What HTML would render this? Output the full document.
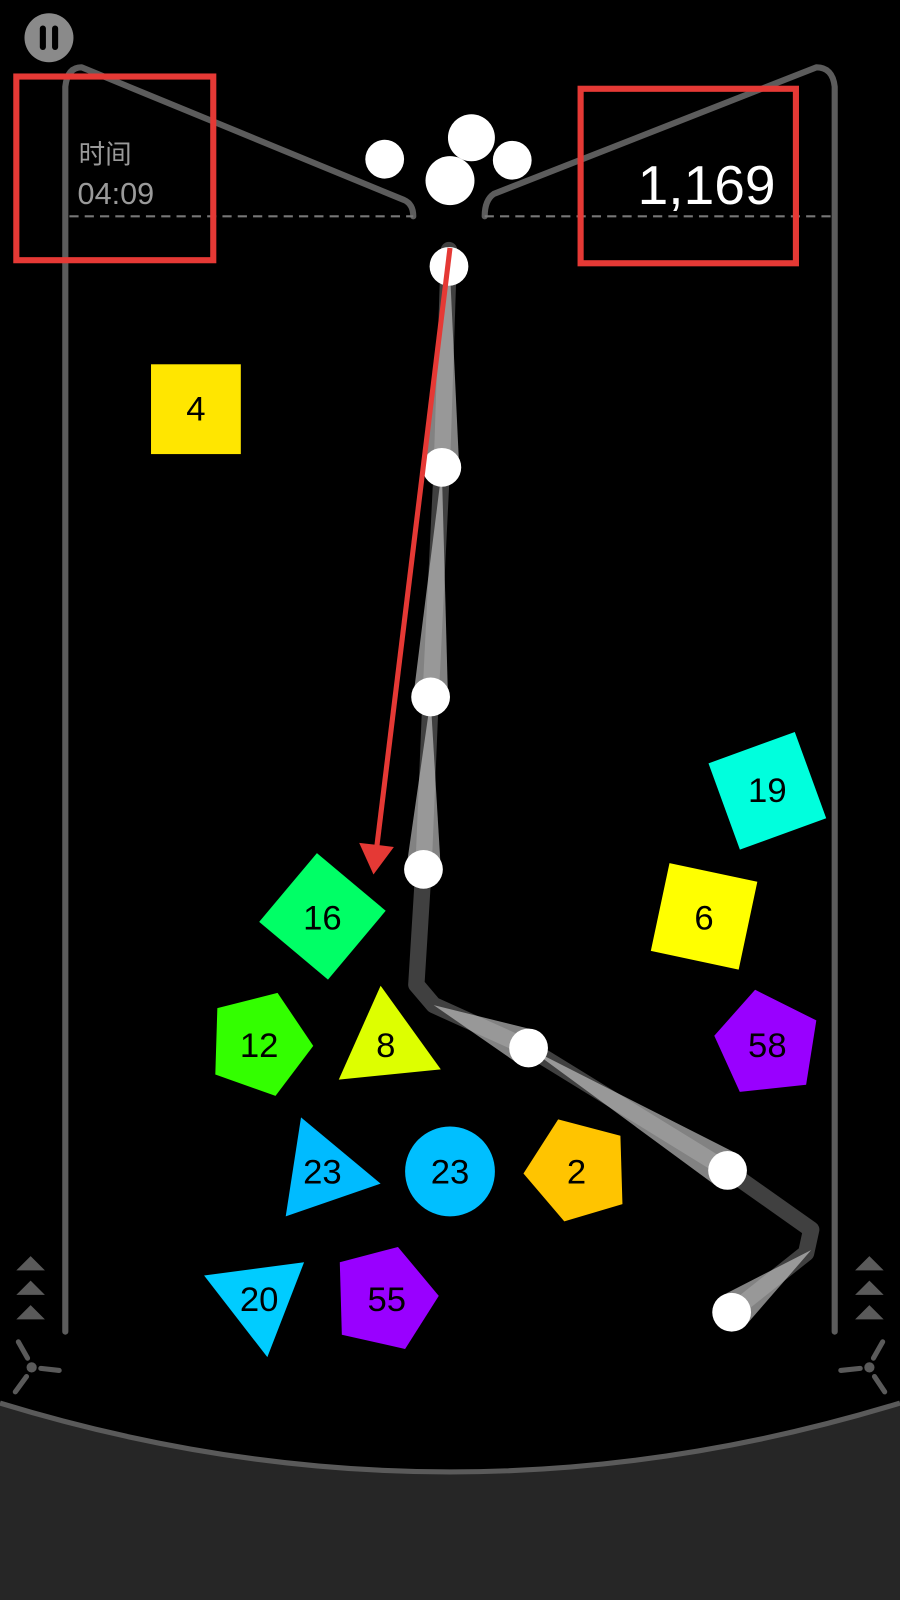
<!DOCTYPE html>
<html><head><meta charset="utf-8"><style>
html,body{margin:0;padding:0;background:#000;width:900px;height:1600px;overflow:hidden}
svg{display:block}
text{font-family:"Liberation Sans","Noto Sans CJK SC",sans-serif}
</style></head><body>
<svg width="900" height="1600" viewBox="0 0 882 1568" preserveAspectRatio="none" xmlns="http://www.w3.org/2000/svg">
<rect width="882" height="1568" fill="#000"/>
<path d="M0 1375 Q441 1510 882 1375 L882 1568 L0 1568Z" fill="#262626"/>
<path d="M0 1375 Q441 1510 882 1375" fill="none" stroke="#5a5a5a" stroke-width="5"/>
<g fill="none" stroke="#5c5c5c" stroke-width="6" stroke-linecap="round" stroke-linejoin="round">
<path d="M64 1305 L64 85 Q66 66 80 66 L396 196 Q405 200 405 212"/>
<path d="M818 1305 L818 85 Q816 66 800 66 L484 190 Q475 196 475 212"/>
</g>
<g stroke="#777" stroke-width="2" stroke-dasharray="9 6">
<line x1="68" y1="212" x2="405" y2="212"/><line x1="475" y1="212" x2="815" y2="212"/>
</g>
<circle cx="48" cy="37" r="24" fill="#8a8a8a"/>
<rect x="39" y="25" width="6" height="24" rx="3" fill="#000"/><rect x="51" y="25" width="6" height="24" rx="3" fill="#000"/>
<text x="77" y="160" font-size="26" fill="#9a9a9a">时间</text>
<text x="76" y="200" font-size="30" fill="#9a9a9a">04:09</text>
<text x="760" y="200" font-size="54" fill="#fff" text-anchor="end">1,169</text>
<!-- trail -->
<g fill="none" stroke-linecap="round" stroke-linejoin="round">
<path d="M440 245 L433 458 L422 683 L415 852 L408 965 L425 985 L518 1027 L713 1147 L795 1205 L790 1228 L717 1286" stroke="#404040" stroke-width="16"/>
</g>
<g fill="#c8c8c8" opacity="0.65">
<polygon points="440,245 450,458 416,458"/>
<polygon points="433,460 439,683 405,683"/>
<polygon points="422,685 432,852 398,852"/>
<polygon points="425,985 510,1044 526,1010"/>
<polygon points="518,1027 703,1163 723,1131"/>
<polygon points="795,1225 729,1301 705,1271"/>
</g>
<g fill="#fff">
<circle cx="377" cy="156" r="19"/><circle cx="462" cy="135" r="23"/><circle cx="502" cy="157" r="19"/><circle cx="441" cy="177" r="24"/>
<circle cx="440" cy="261" r="19"/><circle cx="433" cy="458" r="19"/><circle cx="422" cy="683" r="19"/><circle cx="415" cy="852" r="19"/>
<circle cx="518" cy="1027" r="19"/><circle cx="713" cy="1147" r="19"/><circle cx="717" cy="1286" r="19"/>
</g>
<rect x="148" y="357" width="88" height="88" fill="#ffe600"/>
<rect x="707" y="730" width="90" height="90" fill="#00ffdd" transform="rotate(-20 752 775)"/>
<rect x="646" y="854" width="88" height="88" fill="#ffff00" transform="rotate(12 690 898)"/>
<rect x="272" y="854" width="88" height="88" fill="#00ff66" transform="rotate(40 316 898)"/>
<polygon points="213,988 272,973 307,1025 270,1074 211,1053" fill="#33ff00"/>
<polygon points="373,966 432,1048 332,1058" fill="#ddff00"/>
<polygon points="740,970 800,1000 790,1063 725,1070 700,1015" fill="#9900ff"/>
<polygon points="295,1095 373,1160 280,1192" fill="#00bbff"/>
<circle cx="441" cy="1148" r="44" fill="#00bfff"/>
<polygon points="547,1097 608,1113 610,1180 553,1197 513,1150" fill="#ffc400"/>
<polygon points="200,1250 298,1237 262,1330" fill="#00ccff"/>
<polygon points="333,1237 390,1222 430,1270 397,1322 335,1308" fill="#9900ff"/>
<g font-size="34" fill="#000" text-anchor="middle">
<text x="192" y="412">4</text><text x="752" y="786">19</text><text x="690" y="911">6</text><text x="316" y="911">16</text>
<text x="254" y="1036">12</text><text x="378" y="1036">8</text><text x="752" y="1036">58</text><text x="316" y="1160">23</text>
<text x="441" y="1160">23</text><text x="565" y="1160">2</text><text x="254" y="1285">20</text><text x="379" y="1285">55</text>
</g>
<g fill="none" stroke="#e53935" stroke-width="6">
<rect x="16" y="75" width="193" height="180"/><rect x="569" y="87" width="211" height="171"/>
</g>
<line x1="441" y1="243" x2="369" y2="832" stroke="#e53935" stroke-width="5"/>
<polygon points="352,826 386,830 366,857" fill="#e53935"/>
<g fill="#5a5a5a">
<polygon points="16,1245 44,1245 30,1231"/><polygon points="16,1269 44,1269 30,1255"/><polygon points="16,1293 44,1293 30,1279"/>
<polygon points="838,1245 866,1245 852,1231"/><polygon points="838,1269 866,1269 852,1255"/><polygon points="838,1293 866,1293 852,1279"/>
<circle cx="31" cy="1340" r="5"/><circle cx="852" cy="1340" r="5"/>
</g>
<g stroke="#5a5a5a" stroke-width="5" stroke-linecap="round">
<line x1="27" y1="1331" x2="18" y2="1315"/><line x1="40" y1="1341" x2="58" y2="1343"/><line x1="26" y1="1349" x2="15" y2="1364"/>
<line x1="856" y1="1331" x2="865" y2="1315"/><line x1="843" y1="1341" x2="824" y2="1343"/><line x1="857" y1="1349" x2="867" y2="1364"/>
</g>
</svg>
</body></html>
